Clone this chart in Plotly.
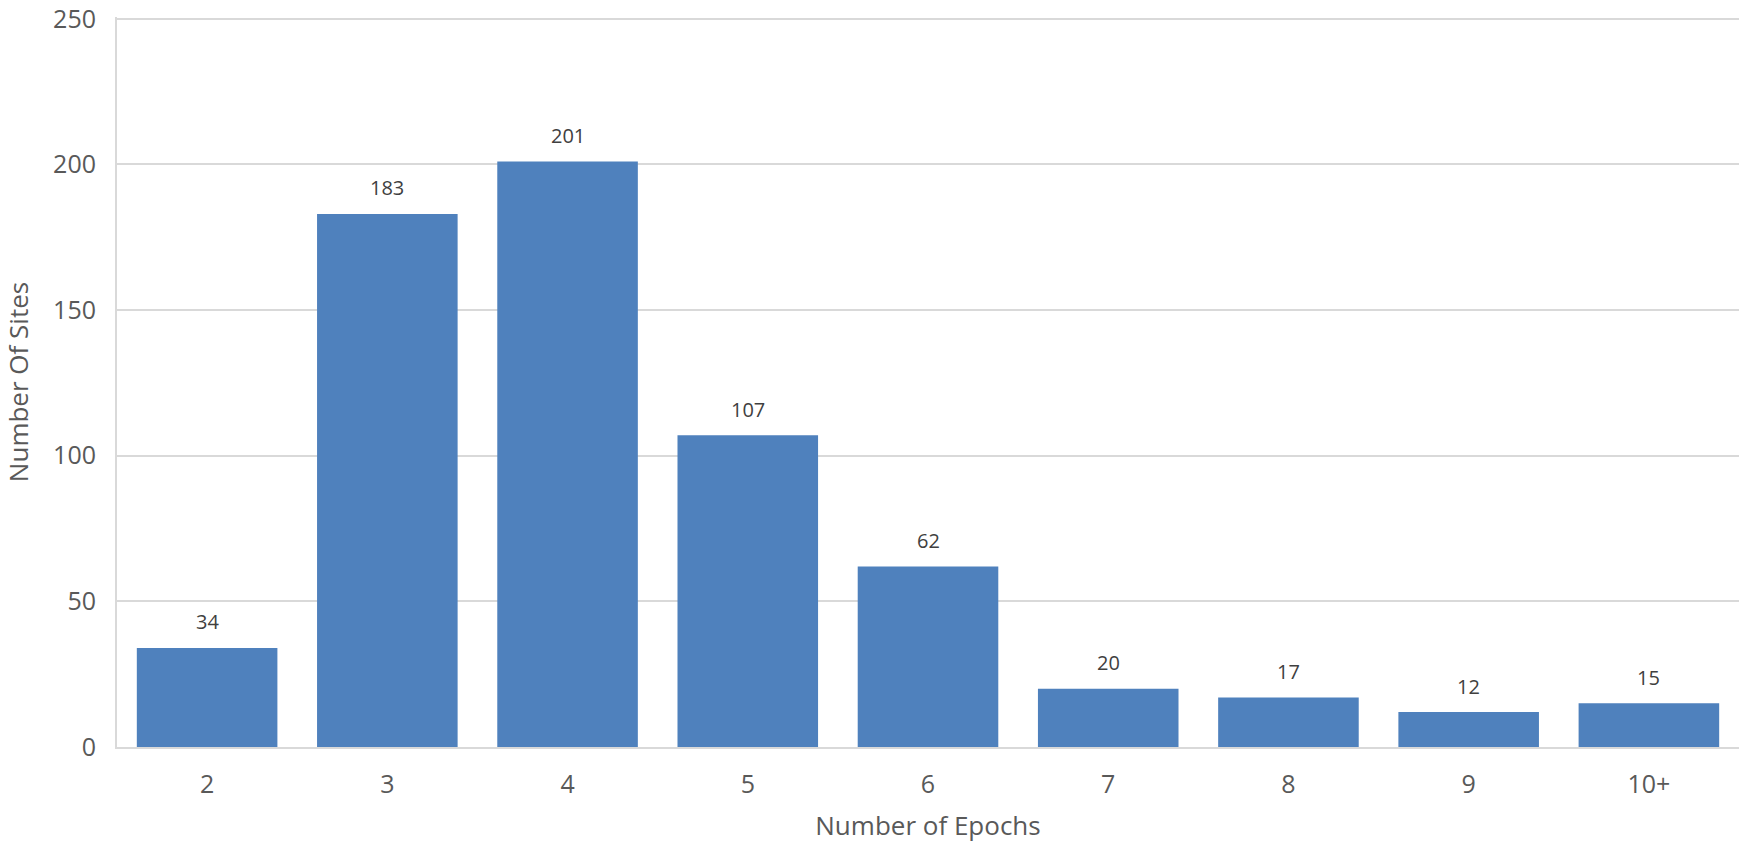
import plotly.graph_objects as go

# Sites grouped by how many epochs they were observed in
epochs = ["2", "3", "4", "5", "6", "7", "8", "9", "10+"]
sites = [34, 183, 201, 107, 62, 20, 17, 12, 15]
y_ticks = [0, 50, 100, 150, 200, 250]

bar_color = "#4F81BD"
text_color = "#595959"
grid_color = "#D9D9D9"
font_family = "'Open Sans', sans-serif"

fig = go.Figure()
fig.add_trace(go.Bar(
    x=epochs,
    y=sites,
    marker=dict(color=bar_color, line=dict(width=0)),
    hoverinfo="x+y",
))

# Value labels centred a little above each bar
for i, val in enumerate(sites):
    fig.add_annotation(
        x=i, y=val, xref="x", yref="y", text=str(val), showarrow=False,
        yanchor="middle", yshift=26,
        font=dict(family=font_family, size=20, color="#404040"),
    )

fig.update_layout(
    width=1744, height=850,
    margin=dict(l=117, r=5, t=17, b=103, autoexpand=False),
    plot_bgcolor="white", paper_bgcolor="white",
    bargap=0.22,
    showlegend=False,
    font=dict(family=font_family, color=text_color),
    xaxis=dict(
        type="category", automargin=False,
        title=dict(text="Number of Epochs", font=dict(size=26, color=text_color), standoff=18),
        tickfont=dict(size=25, color=text_color),
        showline=True, linecolor=grid_color, linewidth=2,
        ticks="", showgrid=False, ticklabelstandoff=14,
    ),
    yaxis=dict(
        automargin=False,
        title=dict(text="Number Of Sites", font=dict(size=26, color=text_color), standoff=20),
        range=[0, 250.6], tickvals=y_ticks,
        tickfont=dict(size=25, color=text_color),
        ticklabeloverflow="allow",
        showgrid=True, gridcolor=grid_color, gridwidth=1.5,
        showline=True, linecolor=grid_color, linewidth=2,
        zeroline=False, ticks="", ticklabelstandoff=14,
    ),
)

fig.write_html("out.html")
